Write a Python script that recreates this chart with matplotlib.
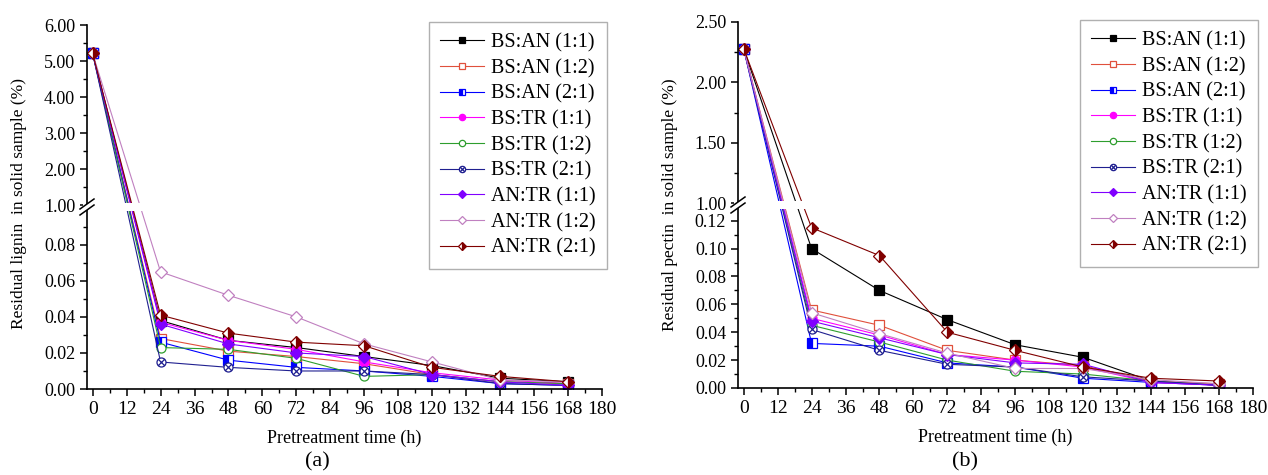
import numpy as np
import matplotlib
matplotlib.use("Agg")
import matplotlib.pyplot as plt
from matplotlib.path import Path
from matplotlib.patches import Rectangle

plt.rcParams["font.family"] = ["Liberation Serif", "DejaVu Serif"]

hours = [0, 24, 48, 72, 96, 120, 144, 168]

series_names = ["BS:AN (1:1)", "BS:AN (1:2)", "BS:AN (2:1)",
                "BS:TR (1:1)", "BS:TR (1:2)", "BS:TR (2:1)",
                "AN:TR (1:1)", "AN:TR (1:2)", "AN:TR (2:1)"]

# (a) residual lignin (%)
lignin = [
    [5.21, 0.038, 0.027, 0.023, 0.018, 0.013, 0.006, 0.004],
    [5.21, 0.028, 0.021, 0.018, 0.014, 0.008, 0.004, 0.003],
    [5.21, 0.026, 0.016, 0.012, 0.010, 0.007, 0.003, 0.002],
    [5.21, 0.037, 0.027, 0.022, 0.015, 0.009, 0.005, 0.003],
    [5.21, 0.023, 0.022, 0.017, 0.007, 0.008, 0.004, 0.003],
    [5.21, 0.015, 0.012, 0.010, 0.010, 0.008, 0.003, 0.002],
    [5.21, 0.036, 0.025, 0.020, 0.018, 0.008, 0.004, 0.002],
    [5.21, 0.065, 0.052, 0.040, 0.025, 0.015, 0.005, 0.004],
    [5.21, 0.041, 0.031, 0.026, 0.024, 0.012, 0.007, 0.004],
]

# (b) residual pectin (%)
pectin = [
    [2.28, 0.100, 0.070, 0.049, 0.031, 0.022, 0.005, 0.002],
    [2.28, 0.056, 0.045, 0.027, 0.020, 0.016, 0.005, 0.003],
    [2.28, 0.032, 0.030, 0.018, 0.015, 0.007, 0.004, 0.002],
    [2.28, 0.050, 0.038, 0.024, 0.020, 0.015, 0.004, 0.002],
    [2.28, 0.045, 0.033, 0.020, 0.012, 0.010, 0.005, 0.002],
    [2.28, 0.042, 0.027, 0.017, 0.015, 0.008, 0.005, 0.002],
    [2.28, 0.048, 0.036, 0.024, 0.018, 0.017, 0.004, 0.002],
    [2.28, 0.054, 0.039, 0.025, 0.014, 0.014, 0.006, 0.003],
    [2.28, 0.115, 0.095, 0.040, 0.027, 0.015, 0.007, 0.005],
]

colors = ["#000000", "#e0503c", "#0000ff", "#ff00ff", "#2e9e2e",
          "#202090", "#8000ff", "#c080c0", "#800000"]

# circle with an X inside
_circ = Path.unit_circle()
_k = 0.7071
_cross = Path([(-_k, -_k), (_k, _k), (-_k, _k), (_k, -_k)],
              [Path.MOVETO, Path.LINETO, Path.MOVETO, Path.LINETO])
crossed_circle = Path.make_compound_path(_circ, _cross)

marker_styles = [
    dict(marker="s", mfc="#000000"),
    dict(marker="s", mfc="white"),
    dict(marker="s", fillstyle="left", mfc="#0000ff", mfcalt="white"),
    dict(marker="o", mfc="#ff00ff"),
    dict(marker="o", mfc="white"),
    dict(marker=crossed_circle, mfc="white"),
    dict(marker="D", mfc="#8000ff"),
    dict(marker="D", mfc="white"),
    dict(marker="D", fillstyle="right", mfc="#800000", mfcalt="white"),
]

W, H = 1268, 475
fig = plt.figure(figsize=(W / 100, H / 100), dpi=100)


def make_scale(lo, hi, top):
    xp = [0, lo, hi, top]
    fp = [0, 1, 1.02, 2.02]
    fwd = lambda y: np.interp(y, xp, fp)
    inv = lambda y: np.interp(y, fp, xp)
    return fwd, inv


def panel(box, data, lo, hi, top, major, minor, ylabel, ylab_y, tag, tagx, leg_box):
    l, r, t, b = box
    ax = fig.add_axes([l / W, 1 - b / H, (r - l) / W, (b - t) / H])
    ax.set_yscale("function", functions=make_scale(lo, hi, top))
    for i, name in enumerate(series_names):
        ms = 6.0 if marker_styles[i]["marker"] == "D" else 6.5
        ax.plot(hours, data[i], color=colors[i], lw=0.8, ms=ms,
                mec=colors[i], mew=0.9, label=name, **marker_styles[i])
    ax.set_xlim(-2, 180)
    ax.set_ylim(0, top)
    ax.set_xticks(np.arange(0, 181, 12))
    ax.set_xticks(np.arange(6, 180, 12), minor=True)
    ax.set_yticks(major)
    ax.set_yticks(minor, minor=True)
    ax.set_yticklabels([f"{v:.2f}" for v in major])
    for s in ["top", "right"]:
        ax.spines[s].set_visible(False)
    ax.spines["left"].set_linewidth(1.2)
    ax.spines["bottom"].set_linewidth(1.2)
    ax.tick_params(which="major", direction="out", length=5, width=1.1)
    ax.tick_params(axis="x", labelsize=14)
    ax.tick_params(axis="y", labelsize=13)
    ax.tick_params(which="minor", direction="out", length=3, width=1.0)
    ax.set_xlabel("Pretreatment time (h)", fontsize=13)
    ax.xaxis.set_label_coords(0.5, -0.112)
    ax.set_ylabel(ylabel, fontsize=12.5)
    ax.yaxis.set_label_coords(-0.117, ylab_y)

    # axis break
    yb = 1.01 / 2.02
    hpx = b - t
    wpx = r - l
    ax.add_patch(Rectangle((0, yb - 4 / hpx), 1, 8 / hpx, transform=ax.transAxes,
                           facecolor="white", edgecolor="none", zorder=2.2))
    ax.add_patch(Rectangle((-4 / wpx, yb - 3 / hpx), 8 / wpx, 6 / hpx,
                           transform=ax.transAxes, facecolor="white",
                           edgecolor="none", zorder=3, clip_on=False))
    for off in (-3, 3):
        y0 = yb + off / hpx
        ax.plot([-7 / wpx, 7 / wpx], [y0 - 5 / hpx, y0 + 5 / hpx],
                transform=ax.transAxes, color="black", lw=1.1,
                clip_on=False, zorder=4)

    leg = ax.legend(loc="upper left", fontsize=14.5, frameon=True,
                    fancybox=False, edgecolor="#b0b0b0", framealpha=1,
                    handlelength=2.2, handletextpad=0.35, labelspacing=0.32,
                    borderpad=0.55, borderaxespad=0, markerscale=0.7,
                    bbox_to_anchor=(leg_box[0] / W, 1 - leg_box[1] / H),
                    bbox_transform=fig.transFigure)
    leg.get_frame().set_linewidth(1.0)
    fig.text(tagx / W, 1 - 462 / H, tag, fontsize=16, ha="center", va="center")
    return ax


panel((87, 602, 25, 389), lignin, 0.1, 1.0, 6.0,
      [0, 0.02, 0.04, 0.06, 0.08, 1, 2, 3, 4, 5, 6],
      [0.01, 0.03, 0.05, 0.07, 0.09, 1.5, 2.5, 3.5, 4.5, 5.5],
      "Residual lignin  in solid sample (%)", 0.51, "(a)", 317, (429, 22))

panel((738, 1253, 22, 388), pectin, 0.13, 1.0, 2.5,
      [0, 0.02, 0.04, 0.06, 0.08, 0.10, 0.12, 1.0, 1.5, 2.0, 2.5],
      [0.01, 0.03, 0.05, 0.07, 0.09, 0.11, 1.25, 1.75, 2.25],
      "Residual pectin  in solid sample (%)", 0.5, "(b)", 965, (1080, 20))

fig.savefig("out.png", dpi=100)
